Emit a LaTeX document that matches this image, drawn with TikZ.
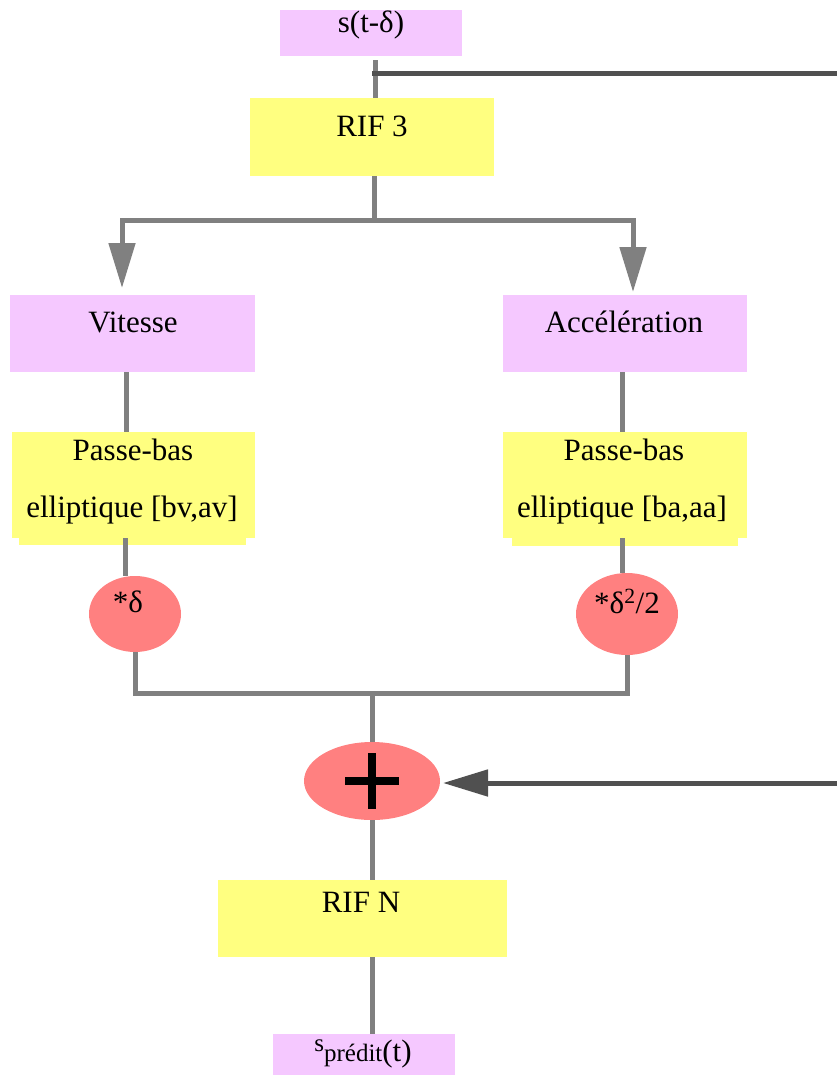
\documentclass[tikz,border=0pt]{standalone}
\usepackage{fontspec}
\setmainfont{Liberation Serif}
\usetikzlibrary{arrows.meta,shapes.geometric,calc}
\definecolor{pinkbox}{RGB}{245,200,255}
\definecolor{yellowbox}{RGB}{255,255,128}
\definecolor{salmon}{RGB}{255,128,128}
\definecolor{linegray}{RGB}{128,128,128}
\definecolor{darkline}{RGB}{80,80,80}
\tikzset{
  boxbase/.style={rectangle,inner sep=0pt,outer sep=0pt,draw=none},
  pinkb/.style={boxbase,fill=pinkbox},
  yellowb/.style={boxbase,fill=yellowbox},
  ell/.style={ellipse,inner sep=0pt,outer sep=0pt,draw=none,fill=salmon},
  txt/.style={anchor=base,inner sep=0pt,font=\fontsize{31pt}{37pt}\selectfont},
  gl/.style={draw=linegray,line width=5pt},
  dl/.style={draw=darkline,line width=5pt},
  garrow/.style={gl,-{Triangle[length=45pt,width=26pt,fill=linegray]}},
  darrow/.style={dl,-{Triangle[length=45pt,width=26pt,fill=darkline]}},
}
\begin{document}
\begin{tikzpicture}[x=1pt,y=-1pt]
\useasboundingbox (0,0) rectangle (837,1076);
% boxes
\node[pinkb,minimum width=182pt,minimum height=46pt] (s) at (371,33) {};
\node[yellowb,minimum width=244pt,minimum height=78pt] (rif3) at (372,137) {};
\node[pinkb,minimum width=245pt,minimum height=77pt] (vit) at (132.5,333.5) {};
\node[pinkb,minimum width=244pt,minimum height=77pt] (acc) at (625,333.5) {};
\node[yellowb,minimum width=243pt,minimum height=106pt] (pb1) at (133.5,485) {};
\node[yellowb,minimum width=227pt,minimum height=8pt] (pb1s) at (132.5,541) {};
\node[yellowb,minimum width=244pt,minimum height=106pt] (pb2) at (625,485) {};
\node[yellowb,minimum width=226pt,minimum height=9pt] (pb2s) at (625,541.5) {};
\node[ell,minimum width=92pt,minimum height=76pt] (e1) at (135,614) {};
\node[ell,minimum width=102pt,minimum height=82pt] (e2) at (627,614) {};
\node[ell,minimum width=136pt,minimum height=78pt] (plus) at (372,781) {};
\node[yellowb,minimum width=289pt,minimum height=77pt] (rifn) at (362.5,918.5) {};
\node[pinkb,minimum width=182pt,minimum height=41pt] (sp) at (364,1054.5) {};
% texts
\node[txt] (ts) at (371,32) {s(t-δ)};
\node[txt] (trif3) at (372,136) {RIF 3};
\node[txt] (tvit) at (133,332) {Vitesse};
\node[txt] (tacc) at (624,332) {Accélération};
\node[txt] (tpb1a) at (133,460) {Passe-bas};
\node[txt] (tpb1b) at (132,517) {elliptique [bv,av]};
\node[txt] (tpb2a) at (624,460) {Passe-bas};
\node[txt] (tpb2b) at (622,517) {elliptique [ba,aa]};
\node[txt] (te1) at (128,612) {*δ};
\node[txt] (te2) at (627,613) {*δ\textsuperscript{2}/2};
\node[txt] (trifn) at (361,912) {RIF N};
\node[txt] (tsp) at (363,1061) {{\fontsize{25pt}{30pt}\selectfont\raisebox{10pt}{s}prédit}(t)};
% plus sign
\draw[line width=8.5pt,black] ([xshift=-27pt]plus.center) -- ([xshift=27pt]plus.center);
\draw[line width=8.5pt,black] ([yshift=28pt]plus.center) -- ([yshift=-28pt]plus.center);
% connectors
\coordinate (tap) at (372,73);
\coordinate (tapR) at (837,73);
\coordinate (j1) at (374,220);
\coordinate (j2) at (372,693);
\coordinate (inR) at (837,783);
\draw[gl] ([shift={(4pt,-4pt)}]s.south) -- ([xshift=3pt]rif3.north);
\draw[dl] (tap) -- (tapR);
\draw[gl] ([xshift=2pt]rif3.south) -- (j1);
\draw[garrow] (j1) -| ([shift={(-10.5pt,7pt)}]vit.north);
\draw[garrow] (j1) -| ([shift={(8pt,3pt)}]acc.north);
\draw[gl] ([xshift=-6.5pt]vit.south) -- ([xshift=-7.5pt]pb1.north);
\draw[gl] ([xshift=-3pt]acc.south) -- ([xshift=-3pt]pb2.north);
\draw[gl] ([xshift=-8.5pt]pb1.south) -- ([xshift=-10pt]e1.north);
\draw[gl] ([xshift=-3pt]pb2.south) -- ([xshift=-5pt]e2.north);
\draw[gl] (e1.south) |- (j2) -| (e2.south);
\draw[gl] (j2) -- (plus.north);
\draw[gl] (plus.south) -- (plus.south |- rifn.north);
\draw[gl] (rifn.south -| plus.south) -- (sp.north -| plus.south);
\draw[darrow] (inR) -- ([xshift=3pt]inR -| plus.east);
\end{tikzpicture}
\end{document}
